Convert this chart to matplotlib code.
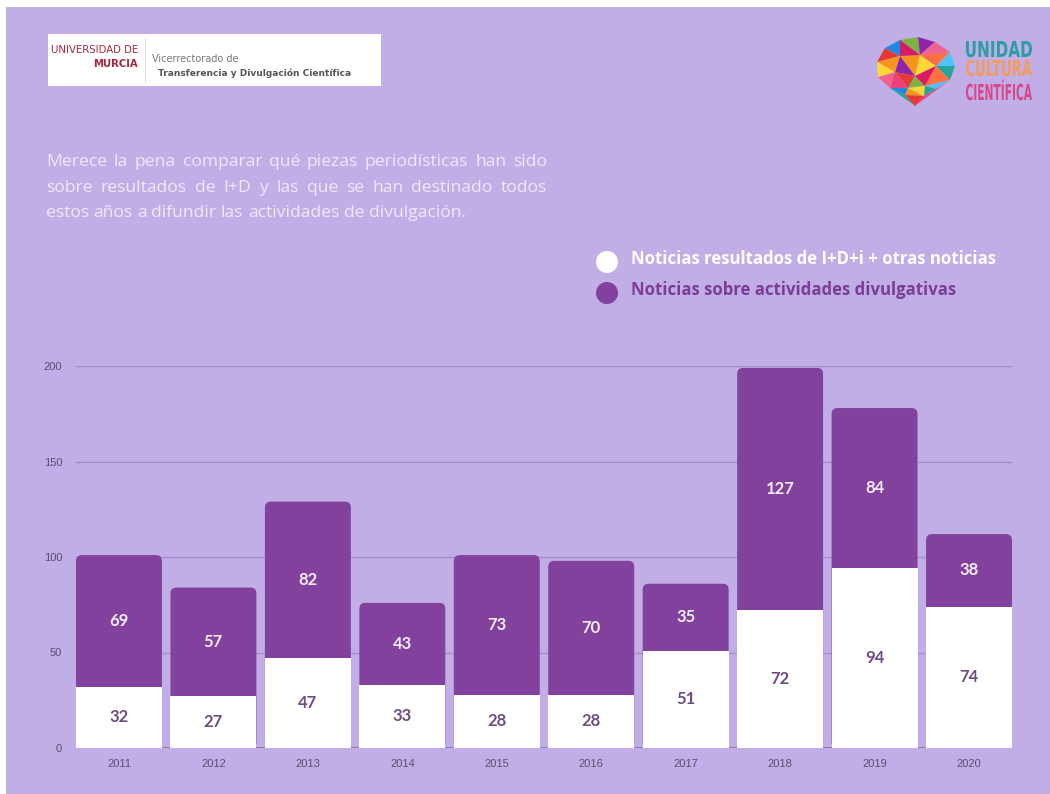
"""Noticias UMU 2011-2020: I+D+i vs actividades divulgativas (stacked bars)."""

import numpy as np
import matplotlib
matplotlib.use('Agg')
import matplotlib.pyplot as plt
import matplotlib.tri as mtri
from matplotlib.patches import Rectangle, FancyBboxPatch, Ellipse, PathPatch
from matplotlib.textpath import TextPath
from matplotlib.font_manager import FontProperties
from matplotlib.transforms import Affine2D, IdentityTransform

# --- Data ---
years = ['2011', '2012', '2013', '2014', '2015', '2016', '2017', '2018', '2019', '2020']
noticias_id = [32, 27, 47, 33, 28, 28, 51, 72, 94, 74]          # I+D+i + otras
noticias_div = [69, 57, 82, 43, 73, 70, 35, 127, 84, 38]         # divulgativas
y_ticks = [0, 50, 100, 150, 200]

legend_labels = ['Noticias resultados de I+D+i + otras noticias',
                 'Noticias sobre actividades divulgativas']
intro_lines = ['Merece la pena comparar qué piezas periodísticas han sido',
               'sobre resultados de I+D y las que se han destinado todos',
               'estos años a difundir las actividades de divulgación.']

# --- Colours ---
BG = '#c1aee6'
PURPLE = '#82419c'
GRID = '#a48ccf'
TICK = '#5b4d6e'
LBL_ON_WHITE = '#6d4d84'
LBL_ON_PURPLE = '#f4ecf8'

W, H = 1050, 794
fig = plt.figure(figsize=(W / 100, H / 100), dpi=100)
fig.patch.set_facecolor('white')


def fx(px):
    return px / W


def fy(py):
    return 1 - py / H


# lavender canvas (thin white strip left/top like the source image)
fig.patches.append(Rectangle((fx(6), 0), 1 - fx(6), fy(7), transform=fig.transFigure,
                             facecolor=BG, edgecolor='none', zorder=-10))

# --- Axes ---
ax_l, ax_r, ax_t, ax_b = 76, 1012, 366, 748
ax = fig.add_axes([fx(ax_l), fy(ax_b), fx(ax_r - ax_l), (ax_b - ax_t) / H])
ax.set_facecolor('none')

x = np.arange(len(years))
width = 0.91
white = np.array(noticias_id)
purple = np.array(noticias_div)
total = white + purple

ax.set_xlim(-0.455, len(years) - 1 + 0.455)
ax.set_ylim(0, 200)

# rounded top corners: draw full-height purple bar rounded, white bar over it
px_per_x = (ax_r - ax_l) / (ax.get_xlim()[1] - ax.get_xlim()[0])
px_per_y = (ax_b - ax_t) / 200
r_px = 6
rx, ry = r_px / px_per_x, r_px / px_per_y

tops = ax.bar(x, total, width=width, color=PURPLE)
for b in tops:
    fb = FancyBboxPatch((b.get_x(), 0), b.get_width(), b.get_height(),
                        boxstyle=f'round,pad=0,rounding_size={rx}',
                        mutation_aspect=ry / rx, facecolor=PURPLE,
                        edgecolor='none', zorder=2, clip_on=False)
    ax.add_patch(fb)
    b.remove()
ax.bar(x, white, width=width, color='white', zorder=3)

for xi, w, p in zip(x, white, purple):
    ax.text(xi, w / 2, str(w), ha='center', va='center', fontsize=12,
            family='Lato', weight='bold', color=LBL_ON_WHITE, zorder=4)
    ax.text(xi, w + p / 2, str(p), ha='center', va='center', fontsize=12,
            family='Lato', weight='bold', color=LBL_ON_PURPLE, zorder=4)

ax.set_yticks(y_ticks)
ax.set_xticks(x)
ax.set_xticklabels(years)
ax.tick_params(length=0, labelsize=8, colors=TICK)
ax.tick_params(axis='y', pad=10)
ax.tick_params(axis='x', pad=8)
for t in ax.get_xticklabels() + ax.get_yticklabels():
    t.set_family('Liberation Sans')
ax.grid(axis='y', color=GRID, lw=1)
ax.set_axisbelow(True)
for s in ax.spines.values():
    s.set_visible(False)
ax.axhline(0, color='#8a70b6', lw=2, zorder=1)

# --- Intro text, justified ---
renderer = fig.canvas.get_renderer()
txt_kw = dict(family='Open Sans', fontsize=12.6, color='#efe8f8', va='center')
x0, x1 = 46, 547
sp = (fig.text(0, 0, 'a a', **txt_kw), fig.text(0, 0, 'aa', **txt_kw))
space_w = sp[0].get_window_extent(renderer).width - sp[1].get_window_extent(renderer).width
for t in sp:
    t.remove()
for i, line in enumerate(intro_lines):
    yy = fy(162 + i * 25.5)
    words = line.split()
    ts = [fig.text(0, yy, w_, **txt_kw) for w_ in words]
    ws = [t.get_window_extent(renderer).width for t in ts]
    if i < len(intro_lines) - 1:
        gap = (x1 - x0 - sum(ws)) / (len(words) - 1)
    else:
        gap = space_w
    xp = x0
    for t, ww in zip(ts, ws):
        t.set_x(fx(xp))
        xp += ww + gap

# --- Legend ---
for i, (lab, col) in enumerate(zip(legend_labels, ['white', PURPLE])):
    yy = 262 + i * 31
    fig.patches.append(Ellipse((fx(607), fy(yy)), 22 / W, 22 / H,
                               transform=fig.transFigure,
                               facecolor=col, edgecolor='none'))
    fig.text(fx(631), fy(yy - 3), lab, family='Open Sans', weight='bold',
             fontsize=12.05, color='white' if i == 0 else '#7b3d98', va='center')

# --- Left logo (Universidad de Murcia) ---
fig.patches.append(Rectangle((fx(48), fy(86)), fx(381 - 48), (86 - 34) / H,
                             transform=fig.transFigure, facecolor='white',
                             edgecolor='none'))
fig.lines.append(plt.Line2D([fx(145), fx(145)], [fy(38), fy(82)],
                            transform=fig.transFigure, color='#dddddd', lw=0.8))
fig.text(fx(138), fy(50), 'UNIVERSIDAD DE', family='DejaVu Sans', fontsize=7.3,
         color='#a6263f', ha='right', va='center')
fig.text(fx(138), fy(64), 'MURCIA', family='DejaVu Sans', fontsize=7.3,
         weight='bold', color='#a6263f', ha='right', va='center')
fig.text(fx(152), fy(59), 'Vicerrectorado de', family='DejaVu Sans', fontsize=7,
         color='#777777', va='center')
fig.text(fx(158), fy(73), 'Transferencia y Divulgación Científica',
         family='DejaVu Sans', fontsize=6.45, weight='bold', color='#555555',
         va='center')

# --- Right logo (Unidad de Cultura Científica) ---
brain_px = np.array([(877, 62), (885, 48), (900, 40), (918, 37), (935, 42),
                     (950, 52), (955, 66), (950, 80), (936, 89), (924, 96),
                     (915, 106), (905, 95), (890, 88), (878, 77),
                     (900, 56), (920, 55), (936, 66), (915, 76), (895, 72),
                     (925, 86), (908, 88)])
tri = mtri.Triangulation(fx(brain_px[:, 0]), fy(brain_px[:, 1]))
palette = ['#f7941d', '#fdd835', '#e53935', '#ec407a', '#26a69a', '#1e88e5',
           '#7cb342', '#d81b60', '#4fc3f7', '#ff7043', '#8e24aa', '#f06292']
logo_ax = fig.add_axes([0, 0, 1, 1], zorder=-5)
logo_ax.set_xlim(0, 1)
logo_ax.set_ylim(0, 1)
logo_ax.axis('off')
for k, tr in enumerate(tri.triangles):
    logo_ax.fill(tri.x[tr], tri.y[tr], color=palette[k % len(palette)], lw=0)

# condensed lettering: text paths squeezed to the box of each word
fp = FontProperties(family='DejaVu Sans', weight='bold')
for word, col, top in [('UNIDAD', '#2a9ea3', 41), ('CULTURA', '#f29b5b', 60),
                       ('CIENTÍFICA', '#d8468d', 84)]:
    tp = TextPath((0, 0), word, size=10, prop=fp)
    cap = TextPath((0, 0), 'H', size=10, prop=fp).get_extents()
    ext = tp.get_extents()
    sx = 66 / ext.width
    sy = 16 / cap.height
    tr_ = Affine2D().translate(-ext.x0, 0).scale(sx, sy).translate(966, H - top - 16)
    fig.patches.append(PathPatch(tr_.transform_path(tp), transform=IdentityTransform(),
                                 facecolor=col, edgecolor='none'))

plt.savefig('out.png', dpi=100, facecolor=fig.get_facecolor())
